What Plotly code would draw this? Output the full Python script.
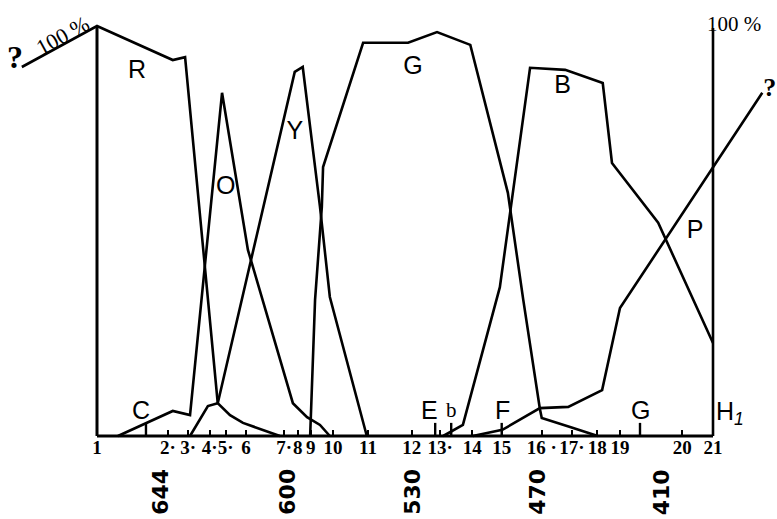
import plotly.graph_objects as go

# ---- data: x = position along the spectrum scale (0 = mark 1, 100 = mark 21), y = percent ----
R_x = [-12.2, 0.0, 12.3, 14.3, 19.6, 20.5, 21.6, 23.7, 26.5, 29.7]
R_y = [90.0, 100.0, 91.7, 92.4, 8.0, 6.8, 5.1, 3.2, 1.7, 0.0]
O_x = [3.4, 8.0, 12.3, 15.1, 20.3, 24.5, 31.8, 34.1, 36.2, 37.8]
O_y = [0.0, 3.2, 6.1, 5.1, 83.7, 45.4, 8.0, 4.6, 2.7, 0.0]
Y_x = [15.1, 18.0, 19.6, 32.1, 33.4, 36.2, 37.8, 43.8]
Y_y = [0.0, 7.3, 8.0, 88.8, 90.0, 55.9, 33.9, 0.0]
G_x = [34.6, 35.4, 36.5, 36.7, 43.2, 50.5, 55.2, 60.6, 66.7, 69.2, 71.9, 72.2, 76.8, 81.3]
G_y = [0.0, 33.2, 55.9, 65.6, 95.9, 95.9, 98.5, 95.4, 59.3, 33.2, 6.6, 4.4, 2.2, 0.0]
B_x = [56.2, 59.4, 65.4, 70.3, 76.0, 82.1, 83.6, 91.1, 100.0]
B_y = [0.0, 2.7, 36.3, 89.8, 89.3, 86.1, 66.6, 52.0, 22.7]
P_x = [61.0, 65.8, 71.9, 76.5, 82.0, 84.9, 108.0]
P_y = [0.0, 1.5, 6.8, 7.1, 11.2, 31.2, 83.7]

curves = [(R_x, R_y), (O_x, O_y), (Y_x, Y_y), (G_x, G_y), (B_x, B_y), (P_x, P_y)]

curve_names = ["R", "O", "Y", "G", "B", "P"]
curve_label_x = [6.5, 20.9, 32.1, 51.3, 75.6, 97.1]
curve_label_y = [88.8, 60.5, 73.9, 89.8, 85.1, 49.8]

scale_pos = [0, 11.5, 14.8, 18.3, 20.9, 24.2, 30.4, 32.6, 34.7, 38.3, 44.0,
             51.1, 55.7, 60.9, 65.7, 72.2, 77.1, 81.2, 84.9, 95.0, 100]
scale_text = ["1", "2·", "3·", "4·", "5·", "6", "7·", "8", "9", "10", "11",
              "12", "13·", "14", "15", "16 ·", "17·", "18", "19", "20", "21"]

fraun_names = ["C", "E", "b", "F", "G"]
fraun_pos = [7.95, 54.9, 57.5, 65.7, 88.15]
fraun_label_x = [7.1, 53.9, 57.6, 65.75, 88.3]
fraun_label_y = 6.3
fraun_tick_h = 3.2

wave_text = ["644", "600", "530", "470", "410"]
wave_pos = [10.2, 30.8, 51.1, 71.4, 91.6]

# unknown-extension marks at both ends
q_x = [-13.3, 109.2]
q_y = [91.6, 84.6]

# ---- layout geometry (pixels of the page) ----
W, H = 777, 519
X0PX, X1PX = 97, 713      # scale 0 and 100
Y0PX, Y100PX = 436, 26    # 0 % and 100 %
pxu = (X1PX - X0PX) / 100.0
pyu = (Y0PX - Y100PX) / 100.0
xr = [(0 - X0PX) / pxu, (W - X0PX) / pxu]
yr = [(Y0PX - H) / pyu, (Y0PX - 0) / pyu]

fig = go.Figure()
LW = 2.6
for cx, cy in curves:
    fig.add_trace(go.Scatter(x=cx, y=cy, mode="lines",
                             line=dict(color="black", width=LW), hoverinfo="skip"))

# frame: baseline and two vertical scales
fig.add_trace(go.Scatter(x=[scale_pos[0], scale_pos[-1]], y=[0, 0], mode="lines",
                         line=dict(color="black", width=3.2), hoverinfo="skip"))
fig.add_trace(go.Scatter(x=[scale_pos[0], scale_pos[0]], y=[0, 100], mode="lines",
                         line=dict(color="black", width=3), hoverinfo="skip"))
fig.add_trace(go.Scatter(x=[scale_pos[-1], scale_pos[-1]], y=[0, 99.5], mode="lines",
                         line=dict(color="black", width=2.6), hoverinfo="skip"))

# Fraunhofer line marks
fx, fy = [], []
for p in fraun_pos:
    fx += [p, p, None]
    fy += [0, fraun_tick_h, None]
fig.add_trace(go.Scatter(x=fx, y=fy, mode="lines",
                         line=dict(color="black", width=2.4), hoverinfo="skip"))

# curve letters
fig.add_trace(go.Scatter(x=curve_label_x, y=curve_label_y, mode="text", text=curve_names,
                         textfont=dict(family="Liberation Sans", size=25, color="black"),
                         hoverinfo="skip", cliponaxis=False))

# question marks
fig.add_trace(go.Scatter(x=q_x, y=q_y, mode="text", text=["?", "?"],
                         textfont=dict(family="Liberation Serif", size=[32, 26], color="black",
                                       weight="bold"),
                         hoverinfo="skip", cliponaxis=False))

for name, lx in zip(fraun_names, fraun_label_x):
    fam = "Liberation Serif" if name == "b" else "Liberation Sans"
    sz = 21 if name == "b" else 25
    fig.add_annotation(x=lx, y=fraun_label_y, text=name, showarrow=False,
                       font=dict(family=fam, size=sz, color="black"))
fig.add_annotation(x=102.8, y=5.6, text="H<sub><i>1</i></sub>", showarrow=False,
                   font=dict(family="Liberation Sans", size=25, color="black"))

for t, p in zip(wave_text, wave_pos):
    fig.add_annotation(x=p, y=(Y0PX - 492) / pyu, text=t, showarrow=False, textangle=-90,
                       font=dict(family="DejaVu Sans", size=22, color="black", weight="bold"))

# percentage marks
fig.add_annotation(x=-5.6, y=97.8, text="100 %", showarrow=False, textangle=-29,
                   font=dict(family="Liberation Serif", size=22, color="black"))
fig.add_annotation(x=103.4, y=100.6, text="100 %", showarrow=False,
                   font=dict(family="Liberation Serif", size=21, color="black"))

fig.update_layout(
    width=W, height=H, showlegend=False,
    margin=dict(l=0, r=0, t=0, b=0),
    paper_bgcolor="white", plot_bgcolor="white",
    xaxis=dict(range=xr, domain=[0, 1], showgrid=False, zeroline=False, showline=False,
               tickmode="array", tickvals=scale_pos, ticktext=scale_text,
               ticks="inside", ticklen=6, tickwidth=2, tickcolor="black",
               ticklabelstandoff=-2, tickangle=0,
               tickfont=dict(family="Liberation Serif", size=19, color="black", weight="bold"),
               anchor="free", position=(H - Y0PX) / H, fixedrange=True),
    yaxis=dict(range=yr, domain=[0, 1], visible=False, fixedrange=True),
)

fig.write_html(
    "out.html",
    config={"displayModeBar": False},
    post_script="document.body.style.margin='0px';document.body.style.overflow='hidden';",
)
